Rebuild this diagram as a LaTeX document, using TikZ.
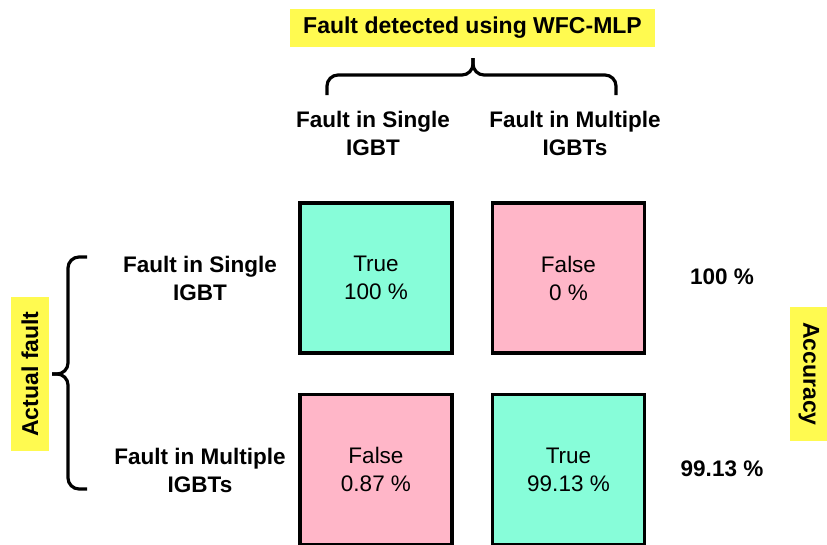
\documentclass[tikz,border=0pt]{standalone}
\usepackage{fontspec}
\setmainfont{Liberation Sans}
\definecolor{hiyellow}{RGB}{255,250,80}
\definecolor{truegreen}{RGB}{135,253,217}
\definecolor{falsepink}{RGB}{255,182,200}

\begin{document}
\begin{tikzpicture}[x=1pt,y=-1pt,
  cell/.style={draw=black, line width=3.5pt, minimum width=152pt, minimum height=150pt,
    inner sep=0pt, align=center, font=\fontsize{22.5}{28}\selectfont},
  truecell/.style={cell, fill=truegreen},
  falsecell/.style={cell, fill=falsepink},
  label/.style={align=center, inner sep=0pt, font=\bfseries\fontsize{22.5}{28}\selectfont},
  banner/.style={fill=hiyellow, inner sep=0pt, font=\bfseries\fontsize{23}{26}\selectfont},
  curly/.style={draw=black, line width=3.2pt, rounded corners=11pt, line cap=butt}
]
\useasboundingbox (0,0) rectangle (827,544);

% title banner and the two predicted classes
\node[banner, minimum width=365pt, minimum height=38pt] (title) at (472.5,28) {Fault detected using WFC-MLP};
\node[label] (colA) at (373,133) {Fault in Single\\IGBT};
\node[label] (colB) at (575,133) {Fault in Multiple\\IGBTs};

% side banner and the two actual classes
\node[banner, rotate=90, minimum width=154pt, minimum height=38pt] (actual) at (30,374) {Actual fault};
\node[label] (rowA) at (200,278) {Fault in Single\\IGBT};
\node[label] (rowB) at (200,470) {Fault in Multiple\\IGBTs};

% confusion matrix cells
\node[truecell]  (c11) at (376,278)   {True\\100 \%};
\node[falsecell] (c12) at (568.5,278) {False\\0 \%};
\node[falsecell] (c21) at (376,469.5) {False\\0.87 \%};
\node[truecell]  (c22) at (568.5,469.5) {True\\99.13 \%};

% accuracy per row
\node[label] (accA) at (722,277) {100 \%};
\node[label] (accB) at (722,469) {99.13 \%};
\node[banner, rotate=-90, minimum width=134pt, minimum height=38pt] (acc) at (809,374) {Accuracy};

% braces
\coordinate (topL) at (327,95);
\coordinate (topR) at (616,95);
\coordinate (topTip) at (473,58);
\coordinate (sideT) at (87,257);
\coordinate (sideB) at (87,489);
\coordinate (sideTip) at (52,374);
\draw[curly] (topL) -- (topL |- 0,75) -- (topTip |- 0,75) -- (topTip);
\draw[curly] (topTip) -- (topTip |- 0,75) -- (topR |- 0,75) -- (topR);
\draw[curly] (sideT) -- (68,257) -- (68,374) -- (sideTip);
\draw[curly] (sideTip) -- (68,374) -- (68,489) -- (sideB);
\end{tikzpicture}
\end{document}
